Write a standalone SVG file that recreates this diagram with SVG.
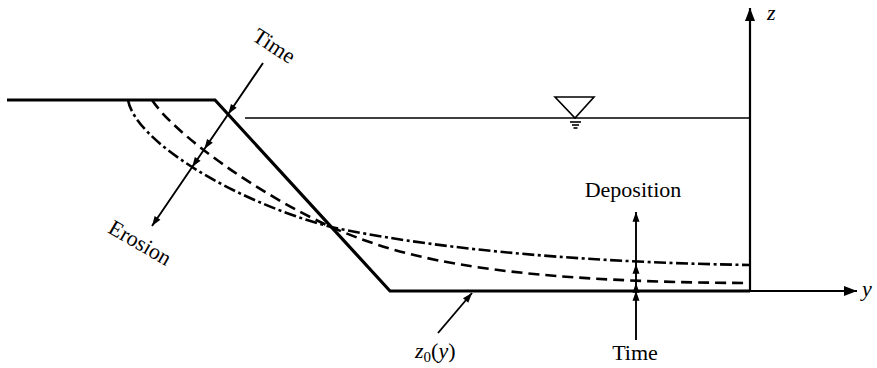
<svg xmlns="http://www.w3.org/2000/svg" width="877" height="368" viewBox="0 0 877 368">
<style>
  .lbl { font-family: "Liberation Serif", "Times New Roman", serif; font-size: 22px; fill: #000; }
  .it { font-style: italic; }
  .thick { fill: none; stroke: #000; stroke-width: 3.2; stroke-linejoin: miter; }
  .axis { fill: none; stroke: #000; stroke-width: 2.2; }
  .thin { fill: none; stroke: #000; stroke-width: 1.6; }
  .dash { fill: none; stroke: #000; stroke-width: 2.6; stroke-dasharray: 11 6; }
  .dashdot { fill: none; stroke: #000; stroke-width: 2.6; stroke-dasharray: 12 3.5 3 3.5; }
  .arr { fill: none; stroke: #000; stroke-width: 1.9; }
</style>
<defs>
  <marker id="ah" markerUnits="userSpaceOnUse" markerWidth="12" markerHeight="10" viewBox="-10 -4 11 8" refX="0" refY="0" orient="auto">
    <path d="M0,0 L-9,-3.2 L-9,3.2 Z" fill="#000"/>
  </marker>
  <marker id="axh" markerUnits="userSpaceOnUse" markerWidth="16" markerHeight="12" viewBox="-14 -6 15 12" refX="0" refY="0" orient="auto">
    <path d="M0,0 L-13,-5 L-13,5 Z" fill="#000"/>
  </marker>
</defs>
<rect width="877" height="368" fill="#fff"/>

<g id="profile">
  <path class="thick" d="M7,100 L215,100 L390,291 L750,291"/>
</g>

<g id="axes">
  <path class="axis" d="M750,291 L857,291" marker-end="url(#axh)"/>
  <path class="axis" d="M750,291 L750,8" marker-end="url(#axh)"/>
  <text class="lbl it" x="767" y="20">z</text>
  <text class="lbl it" x="862" y="296">y</text>
</g>

<g id="water">
  <line class="thin" x1="245" y1="118" x2="750" y2="118"/>
  <path class="thin" d="M555,97 L594,97 L575,118 Z"/>
  <line class="thin" x1="570" y1="122" x2="581" y2="122"/>
  <line class="thin" x1="572" y1="125" x2="579" y2="125"/>
  <line class="thin" x1="573.5" y1="128" x2="577.5" y2="128"/>
</g>

<g id="curves">
  <path class="dash" d="M152,100 C175,135 260,195 331,227 C390,252 470,282 750,283"/>
  <path class="dashdot" d="M128,100 C135,140 230,200 331,227 C420,246 560,262 750,265"/>
</g>

<g id="connectors">
  <path class="arr" d="M263,63 L228.3,114 L204.4,149 L192.2,167 L152,226" marker-mid="url(#ah)" marker-end="url(#ah)"/>
  <path class="arr" d="M636,340 L636,291 L636,283 L636,264 L636,212" marker-mid="url(#ah)" marker-end="url(#ah)"/>
  <path class="arr" d="M438,333 L472,293" marker-end="url(#ah)"/>
</g>

<g id="labels">
  <text class="lbl" text-anchor="middle" transform="translate(274,46) rotate(33)" y="7">Time</text>
  <text class="lbl" text-anchor="middle" transform="translate(140,243) rotate(30)" y="7">Erosion</text>
  <text class="lbl" text-anchor="middle" x="633" y="197">Deposition</text>
  <text class="lbl" text-anchor="middle" x="635" y="360">Time</text>
  <text class="lbl" x="415" y="358"><tspan class="it">z</tspan><tspan font-size="15" dy="4">0</tspan><tspan dy="-4">(</tspan><tspan class="it">y</tspan>)</text>
</g>
</svg>
